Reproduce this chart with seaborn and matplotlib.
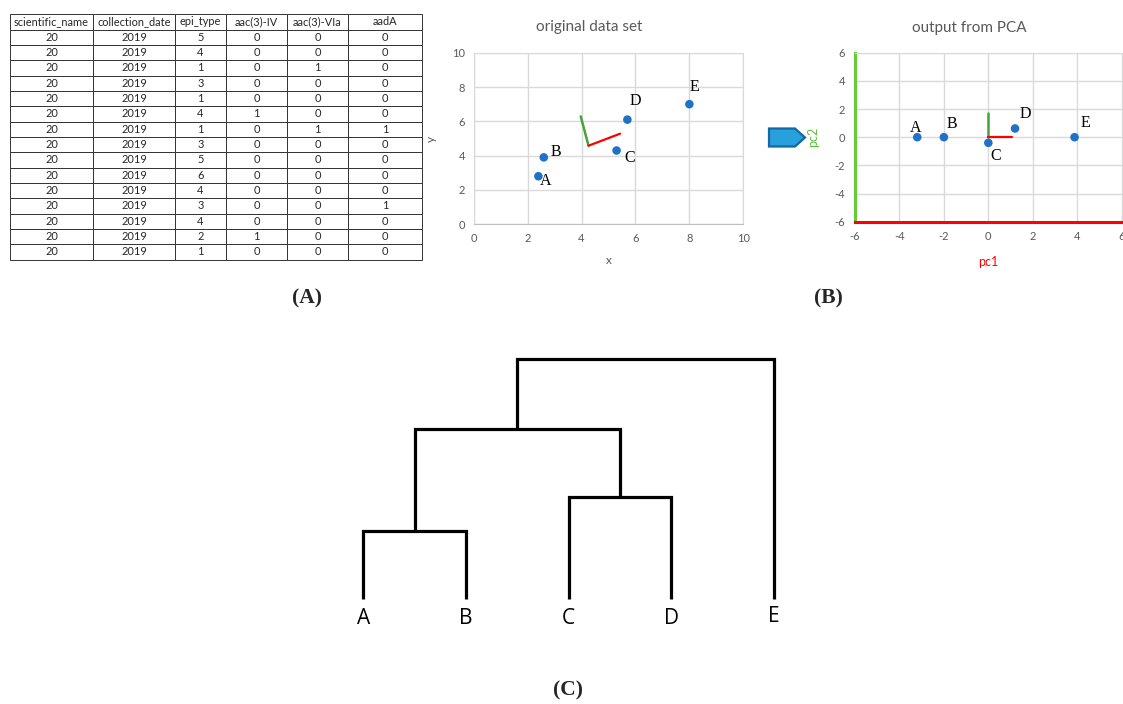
import numpy as np
import pandas as pd
import seaborn as sns
import matplotlib.pyplot as plt
from matplotlib.patches import Polygon

# ---- data ----
table_cols = ["scientific_name", "collection_date", "epi_type", "aac(3)-IV", "aac(3)-VIa", "aadA"]
scientific_name = [20] * 15
collection_date = [2019] * 15
epi_type = [5, 4, 1, 3, 1, 4, 1, 3, 5, 6, 4, 3, 4, 2, 1]
aac3_iv = [0, 0, 0, 0, 0, 1, 0, 0, 0, 0, 0, 0, 0, 1, 0]
aac3_via = [0, 0, 1, 0, 0, 0, 1, 0, 0, 0, 0, 0, 0, 0, 0]
aada = [0, 0, 0, 0, 0, 0, 1, 0, 0, 0, 0, 1, 0, 0, 0]

points = ["A", "B", "C", "D", "E"]
orig_x = [2.4, 2.6, 5.3, 5.7, 8.0]
orig_y = [2.8, 3.9, 4.3, 6.1, 7.0]
orig_lab_x = [2.68, 3.04, 5.8, 6.0, 8.2]
orig_lab_y = [2.52, 4.19, 3.84, 7.2, 7.98]
orig_center = (4.26, 4.58)
orig_pc1_end = (5.43, 5.28)
orig_pc2_end = (3.97, 6.29)

pca_x = [-3.2, -2.0, 0.0, 1.2, 3.88]
pca_y = [0.0, 0.0, -0.4, 0.62, 0.0]
pca_lab_x = [-3.27, -1.64, 0.33, 1.65, 4.38]
pca_lab_y = [0.63, 0.95, -1.37, 1.63, 1.04]
pca_pc1_len = 1.08
pca_pc2_len = 1.75

# dendrogram: leaf order and merge heights
leaves = ["A", "B", "C", "D", "E"]
merges = [(0.0, 1.0, 0.0, 0.0, 2.0),   # (left x, right x, left h, right h, merge h)  A+B
          (2.0, 3.0, 0.0, 0.0, 3.0),   # C+D
          (0.5, 2.5, 2.0, 3.0, 5.0),   # AB + CD
          (1.5, 4.0, 5.0, 0.0, 7.05)]  # ABCD + E

W, H = 1123, 704
sns.set_style("white")
plt.rcParams['font.family'] = ['Lato', 'DejaVu Sans']
plt.rcParams['axes.unicode_minus'] = False
fig = plt.figure(figsize=(W / 100, H / 100), dpi=100)


def px(l, t, r, b):
    return [l / W, 1 - b / H, (r - l) / W, (b - t) / H]


BLUE = "#1f72c6"
GRID = "#d9d9d9"
TICK = "#595959"
serif = ['Liberation Serif', 'DejaVu Serif']

# ---- (A) table ----
df = pd.DataFrame({
    table_cols[0]: scientific_name,
    table_cols[1]: collection_date,
    table_cols[2]: epi_type,
    table_cols[3]: aac3_iv,
    table_cols[4]: aac3_via,
    table_cols[5]: aada,
})
ax_t = fig.add_axes(px(10, 14.3, 422, 259.5))
ax_t.axis("off")
widths = np.array([83, 82, 51, 61, 61, 74], dtype=float)
tbl = ax_t.table(cellText=df.astype(str).values, colLabels=df.columns,
                 colWidths=list(widths / widths.sum()), cellLoc="center",
                 bbox=[0, 0, 1, 1])
tbl.auto_set_font_size(False)
tbl.set_fontsize(7.9)
for (r, c), cell in tbl.get_celld().items():
    cell.set_edgecolor("#333333")
    cell.set_linewidth(0.7)

# ---- (B) original data set ----
ax1 = fig.add_axes(px(473.7, 52.7, 743.3, 224.3))
sns.scatterplot(x=orig_x, y=orig_y, ax=ax1, s=38, color=BLUE, edgecolor="none", zorder=4)
ax1.plot([orig_center[0], orig_pc2_end[0]], [orig_center[1], orig_pc2_end[1]], color="#45a340", lw=1.8, zorder=3)
ax1.plot([orig_center[0], orig_pc1_end[0]], [orig_center[1], orig_pc1_end[1]], color="#ff0000", lw=1.6, zorder=3)
for lab, lx, ly in zip(points, orig_lab_x, orig_lab_y):
    ax1.text(lx, ly, lab, family=serif, fontsize=11.5, ha="center", va="center", color="black")
ax1.set_xlim(0, 10)
ax1.set_ylim(0, 10)
ax1.set_xticks(range(0, 11, 2))
ax1.set_yticks(range(0, 11, 2))
ax1.grid(True, color=GRID, lw=1)
ax1.set_axisbelow(True)
for s in ax1.spines.values():
    s.set_color(GRID)
ax1.spines["bottom"].set_color("#bfbfbf")
ax1.tick_params(length=0, labelsize=8, labelcolor=TICK, pad=6)
ax1.set_xlabel("x", fontsize=8.5, color=TICK, labelpad=8)
ax1.set_ylabel("y", fontsize=8.5, color=TICK, labelpad=11)
fig.text(589 / W, 1 - 27 / H, "original data set", ha="center", va="center", fontsize=11, color=TICK)

# arrow between the two plots
arrow = Polygon([(769 / W, 1 - 128.5 / H), (795 / W, 1 - 128.5 / H), (805 / W, 1 - 137.5 / H),
                 (795 / W, 1 - 146.5 / H), (769 / W, 1 - 146.5 / H)], closed=True,
                transform=fig.transFigure, facecolor="#27a0dc", edgecolor="#13699e", lw=1.6)
fig.patches.append(arrow)

# ---- (B) output from PCA ----
ax2 = fig.add_axes(px(855, 52.7, 1121.7, 221.7))
sns.scatterplot(x=pca_x, y=pca_y, ax=ax2, s=38, color=BLUE, edgecolor="none", zorder=4)
ax2.plot([0, 0], [0, pca_pc2_len], color="#45a340", lw=1.8, zorder=3)
ax2.plot([0, pca_pc1_len], [0, 0], color="#ff0000", lw=1.6, zorder=3)
for lab, lx, ly in zip(points, pca_lab_x, pca_lab_y):
    ax2.text(lx, ly, lab, family=serif, fontsize=11.5, ha="center", va="center", color="black")
ax2.set_xlim(-6, 6)
ax2.set_ylim(-6, 6)
ax2.set_xticks(range(-6, 7, 2))
ax2.set_yticks(range(-6, 7, 2))
ax2.grid(True, color=GRID, lw=1)
ax2.set_axisbelow(True)
ax2.spines["top"].set_color(GRID)
ax2.spines["right"].set_color(GRID)
ax2.spines["left"].set_color("#66cc33")
ax2.spines["left"].set_linewidth(2.2)
ax2.spines["bottom"].set_color("#ff0000")
ax2.spines["bottom"].set_linewidth(2.2)
ax2.tick_params(length=0, labelsize=8, labelcolor=TICK, pad=7)
ax2.set_xlabel("pc1", fontsize=9, color="#ff0000", labelpad=10)
ax2.set_ylabel("pc2", fontsize=9, color="#5cbf3a", labelpad=11)
fig.text(969 / W, 1 - 28 / H, "output from PCA", ha="center", va="center", fontsize=11, color=TICK)

# ---- (C) dendrogram ----
ax3 = fig.add_axes(px(312, 359, 825.4, 599))
for x0, x1, h0, h1, hm in merges:
    ax3.plot([x0, x0, x1, x1], [h0, hm, hm, h1], color="black", lw=2.3,
             solid_joinstyle="miter", solid_capstyle="butt", clip_on=False)
ax3.set_xlim(-0.5, 4.5)
ax3.set_ylim(0, 7.05)
ax3.axis("off")
for i, lab in enumerate(leaves):
    dy = -0.58 if lab != "E" else -0.52
    ax3.text(i, dy, lab, ha="center", va="center", fontsize=15, color="black",
             family=['Open Sans', 'DejaVu Sans'])

# panel labels
for x, y, t in [(307, 298, "(A)"), (828, 298, "(B)"), (568, 690, "(C)")]:
    fig.text(x / W, 1 - y / H, t, ha="center", va="center", fontsize=15.5,
             fontweight="bold", family=serif)

fig.savefig("out.png", dpi=100)
